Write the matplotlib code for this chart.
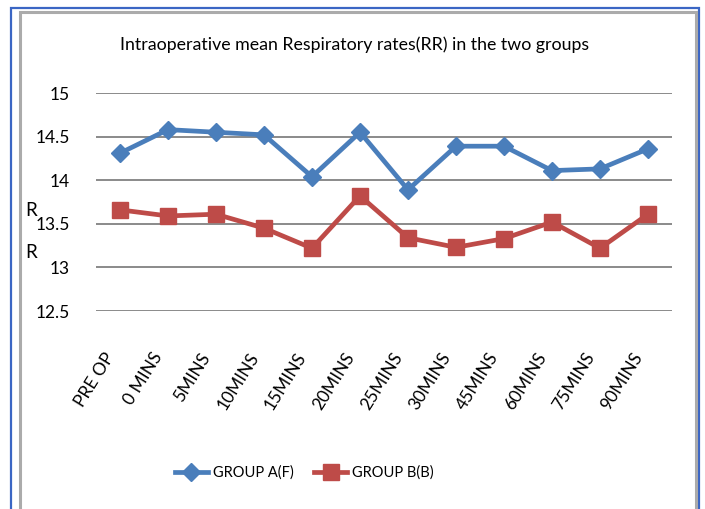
import matplotlib.pyplot as plt
from matplotlib.patches import Rectangle
from matplotlib.transforms import ScaledTranslation

# data
categories = ['PRE OP', '0 MINS', '5MINS', '10MINS', '15MINS', '20MINS',
              '25MINS', '30MINS', '45MINS', '60MINS', '75MINS', '90MINS']
group_a = [14.31, 14.58, 14.55, 14.52, 14.04, 14.55,
           13.89, 14.39, 14.39, 14.11, 14.13, 14.36]
group_b = [13.66, 13.59, 13.61, 13.45, 13.22, 13.82,
           13.34, 13.23, 13.33, 13.52, 13.22, 13.61]
y_ticks = [12.5, 13, 13.5, 14, 14.5, 15]

blue = '#4A7EBB'
red = '#BE4B48'
plt.rcParams['font.family'] = ['Lato', 'DejaVu Sans']

W, H = 705, 509
fig = plt.figure(figsize=(W / 100, H / 100), dpi=100)

# outer frames (blue + grey), open at the bottom
fig.add_artist(Rectangle((10.5 / W, -0.05), (699 - 10.5) / W, 1.05 - 7.5 / H,
                         transform=fig.transFigure, fill=False,
                         edgecolor='#3B66C4', lw=1.6))
fig.add_artist(Rectangle((20 / W, -0.05), (695.5 - 20) / W, 1.05 - 12 / H,
                         transform=fig.transFigure, fill=False,
                         edgecolor='#ABABAB', lw=2.2))

left, right, top, bottom = 96, 672, 93, 311
ax = fig.add_axes([left / W, 1 - bottom / H, (right - left) / W, (bottom - top) / H])

x = range(len(categories))
ax.plot(x, group_a, color=blue, lw=3.4, marker='D', ms=9, label='GROUP A(F)')
ax.plot(x, group_b, color=red, lw=3.4, marker='s', ms=11, label='GROUP B(B)')

ax.set_xlim(-0.5, len(categories) - 0.5)
ax.set_ylim(12.5, 15)
ax.set_yticks(y_ticks)
ax.set_yticklabels(['12.5', '13', '13.5', '14', '14.5', '15'], fontsize=12.5)
ax.set_xticks(list(x))
ax.set_xticklabels(categories, rotation=58, ha='right', rotation_mode='anchor',
                   fontsize=12.5)
ax.tick_params(length=0)
ax.tick_params(axis='y', pad=19)
ax.tick_params(axis='x', pad=28)
shift = ScaledTranslation(-16 / 100, 0, fig.dpi_scale_trans)
for lbl in ax.get_xticklabels():
    lbl.set_transform(lbl.get_transform() + shift)
ax.grid(axis='y', color='#8A8A8A', lw=1.4)
ax.set_axisbelow(True)
for s in ax.spines.values():
    s.set_visible(False)

fig.text(355 / W, 1 - 45 / H,
         'Intraoperative mean Respiratory rates(RR) in the two groups',
         ha='center', va='center', fontsize=12.8)
fig.text(31 / W, 1 - 211 / H, 'R', ha='center', va='center', fontsize=13.5)
fig.text(31 / W, 1 - 252 / H, 'R', ha='center', va='center', fontsize=13.5)

fig.legend(loc='center', bbox_to_anchor=(304 / W, 1 - 473 / H), ncol=2,
           frameon=False, fontsize=10.5, handlelength=2.3, columnspacing=1.4,
           handletextpad=0.3)

fig.savefig('out.png', dpi=100)
